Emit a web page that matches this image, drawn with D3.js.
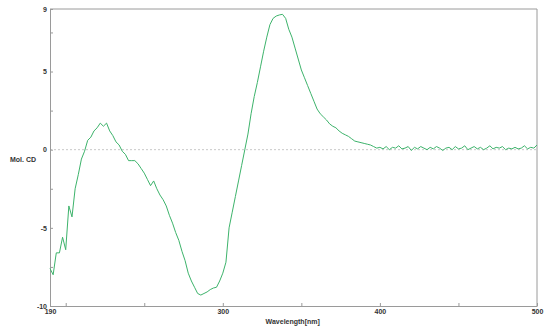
<!DOCTYPE html>
<html>
<head>
<meta charset="utf-8">
<script src="https://cdn.jsdelivr.net/npm/d3@7"></script>
<style>
  body { margin: 0; background: #fff; }
  .axis text { font-family: "Liberation Sans", Arial, sans-serif; font-size: 7px; font-weight: bold; fill: #333; }
  .axis path, .axis line { stroke: #9a9a9a; }
</style>
</head>
<body>
<div id="chart"></div>
<script>
// wavelength (nm), 2 nm steps
var wavelengths = d3.range(190, 501, 2);
// Mol. CD
var molCD = [
  -7.6, -8.0, -6.6, -6.6, -5.6, -6.4, -3.6, -4.3, -2.5, -1.6,
  -0.6, -0.1, 0.6, 0.8, 1.2, 1.4, 1.7, 1.5, 1.7, 1.2,
  0.9, 0.5, 0.3, -0.1, -0.3, -0.7, -0.7, -0.7, -0.9, -1.2,
  -1.5, -1.9, -2.3, -2.0, -2.5, -2.9, -3.2, -3.6, -4.2, -4.7,
  -5.3, -5.8, -6.5, -7.1, -7.9, -8.4, -8.8, -9.2, -9.3, -9.2,
  -9.1, -8.95, -8.85, -8.8, -8.4, -7.9, -7.2, -5.0, -4.0, -3.0,
  -2.0, -1.0, 0.0, 1.0, 2.3, 3.4, 4.3, 5.3, 6.3, 7.2,
  8.0, 8.4, 8.55, 8.62, 8.66, 8.4, 7.7, 7.2, 6.5, 5.8,
  5.1, 4.6, 4.1, 3.6, 3.1, 2.6, 2.3, 2.1, 1.9, 1.65,
  1.5, 1.4, 1.2, 1.05, 0.95, 0.85, 0.7, 0.55, 0.5, 0.45,
  0.4, 0.35, 0.3, 0.2, 0.1, 0.15, 0.05, 0.2, 0.0, 0.15,
  0.1, 0.25, 0.05, 0.1, 0.2, -0.05, 0.15, 0.05, 0.2, 0.1,
  0.0, 0.15, 0.05, 0.2, 0.1, -0.05, 0.1, 0.15, 0.0, 0.2,
  0.05, 0.1, 0.25, 0.0, 0.1, 0.2, 0.05, 0.15, 0.0, 0.1,
  0.25, 0.05, 0.15, 0.1, 0.2, 0.0, 0.1, 0.05, 0.15, 0.05,
  0.1, 0.25, 0.05, 0.15, 0.1, 0.3
];
var xTicks = [190, 200, 250, 300, 350, 400, 450, 500];
var xLabels = [190, 300, 400, 500];
var yTicks = [9, 7.5, 5, 2.5, 0, -2.5, -5, -7.5, -10];
var yLabels = [9, 5, 0, -5, -10];

var w = 550;
var h = 335;
var margin = { top: 9, bottom: 29, left: 50, right: 13 };
var width = w - margin.left - margin.right;
var height = h - margin.top - margin.bottom;

var svg = d3.select("#chart").append("svg")
  .attr("width", w)
  .attr("height", h);
var chart = svg.append("g")
  .attr("transform", "translate(" + margin.left + "," + margin.top + ")");

var x = d3.scaleLinear().domain([190, 500]).range([0, width]);
var y = d3.scaleLinear().domain([-10, 9]).range([height, 0]);

var data = wavelengths.map(function(d, i){ return { wl: d, cd: molCD[i] }; });

// frame top + right
chart.append("path")
  .attr("d", "M0,0H" + width + "V" + height)
  .attr("fill", "none")
  .attr("stroke", "#9a9a9a");

// zero line
chart.append("line")
  .attr("x1", 0).attr("x2", width)
  .attr("y1", y(0)).attr("y2", y(0))
  .attr("stroke", "#c8c8c8")
  .attr("stroke-dasharray", "2,2");

var xAxis = d3.axisBottom(x)
  .tickValues(xTicks)
  .tickSizeInner(-3)
  .tickSizeOuter(0)
  .tickPadding(4)
  .tickFormat(function(d){ return xLabels.indexOf(d) >= 0 ? String(d) : ""; });
var yAxis = d3.axisLeft(y)
  .tickValues(yTicks)
  .tickSizeInner(-3)
  .tickSizeOuter(0)
  .tickPadding(3)
  .tickFormat(function(d){ return yLabels.indexOf(d) >= 0 ? String(d) : ""; });

chart.append("g")
  .attr("class", "x axis")
  .attr("transform", "translate(0," + height + ")")
  .call(xAxis);
chart.append("g")
  .attr("class", "y axis")
  .call(yAxis);

chart.selectAll(".x.axis .tick text").attr("dy", "0.55em");

//x label
chart.select(".x.axis")
  .append("text")
  .attr("x", x(344.5))
  .attr("y", 18)
  .style("text-anchor", "middle")
  .text("Wavelength[nm]");

//y label
chart.select(".y.axis")
  .append("text")
  .attr("x", -27)
  .attr("y", y(-0.8))
  .style("text-anchor", "middle")
  .text("Mol. CD");

var line = d3.line()
  .x(function(d){ return x(d.wl); })
  .y(function(d){ return y(d.cd); });

chart.append("path")
  .datum(data)
  .attr("d", line)
  .attr("fill", "none")
  .attr("stroke", "#3db36b")
  .attr("stroke-width", 1);
</script>
</body>
</html>
